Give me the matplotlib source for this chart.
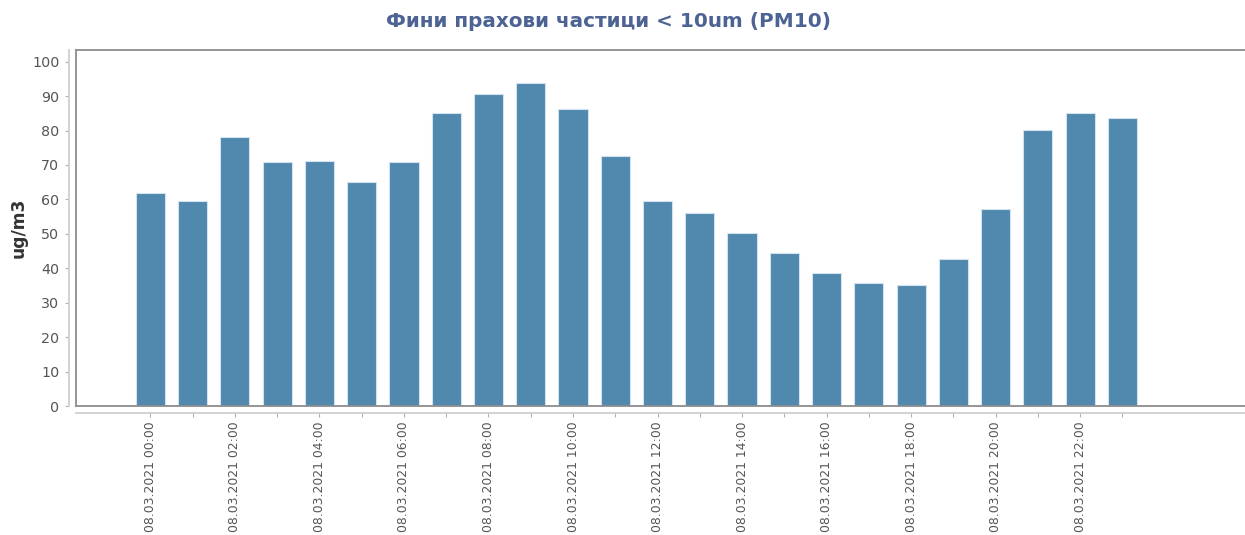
import matplotlib
matplotlib.use("Agg")
import matplotlib.pyplot as plt
from matplotlib.lines import Line2D

title = "Фини прахови частици < 10um (PM10)"
ylabel = "ug/m3"
hours = [f"{h:02d}:00" for h in range(24)]
date = "08.03.2021"
values = [61.9, 59.6, 78.0, 70.9, 71.3, 65.1, 70.9, 85.0,
          90.5, 93.8, 86.3, 72.5, 59.5, 56.0, 50.3, 44.5,
          38.6, 35.6, 35.1, 42.6, 57.3, 80.3, 85.0, 83.7]
yticks = list(range(0, 101, 10))

W, H = 1245, 535
fig = plt.figure(figsize=(W / 100, H / 100), dpi=100)
ax = fig.add_axes([76 / W, (H - 406) / H, (W - 76) / W, (406 - 50) / H])

x = list(range(len(values)))
ax.bar(x, values, width=0.69, color="#5088ae", edgecolor="#d2e2ee", linewidth=0.8)

ax.set_xlim(-1.76, 25.9)
ax.set_ylim(0, 103.4)

frame_c = "#8c8c8c"
axis_c = "#cfcfcf"
ax.spines["right"].set_visible(False)
ax.spines["top"].set_color(frame_c)
ax.spines["top"].set_linewidth(1.3)
for s in ("left", "bottom"):
    ax.spines[s].set_position(("outward", 5))
    ax.spines[s].set_color(axis_c)
    ax.spines[s].set_linewidth(1.3)
# inner frame lines (left and bottom of plot area)
ax.add_line(Line2D([0, 0], [0, 1], transform=ax.transAxes, color=frame_c, lw=1.3, clip_on=False))
ax.add_line(Line2D([0, 1], [0, 0], transform=ax.transAxes, color=frame_c, lw=1.3, clip_on=False))

ax.set_yticks(yticks)
ax.set_yticklabels([str(v) for v in yticks])
ax.set_xticks(x)
ax.set_xticklabels([f"{date} {h}" if i % 2 == 0 else "" for i, h in enumerate(hours)],
                   rotation=90)
ax.tick_params(axis="both", length=3, width=0.8, color="#b0b0b0", direction="out")
ax.tick_params(axis="y", labelsize=10.3, labelcolor="#555555", pad=4)
ax.tick_params(axis="x", labelsize=8.9, labelcolor="#555555", pad=3)

fig.text(19 / W, 1 - 228 / H, ylabel, rotation=90, ha="center", va="center",
         fontsize=12.3, fontweight="bold", color="#333333")
fig.text(608 / W, 1 - 27 / H, title, ha="center", va="baseline",
         fontsize=14.4, fontweight="bold", color="#4c6394")

fig.savefig("out.png", dpi=100)
